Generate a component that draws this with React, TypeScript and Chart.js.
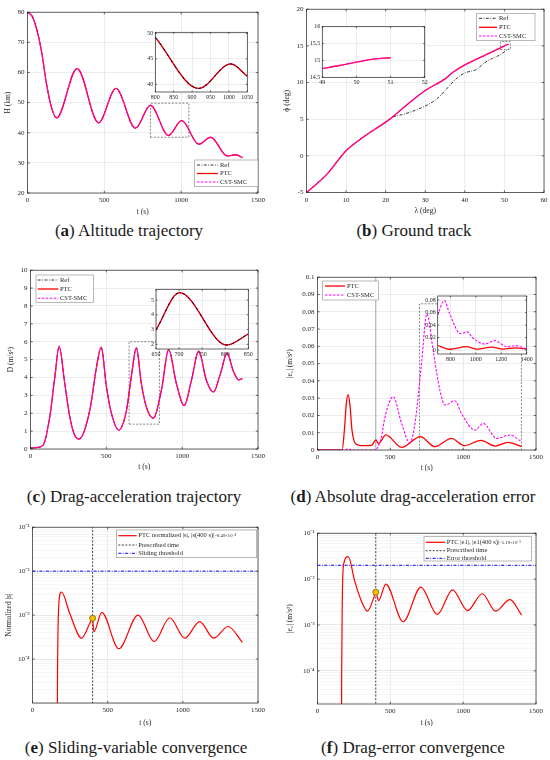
import { useEffect, useRef } from "react";
import { Chart, registerables } from "chart.js";

Chart.register(...registerables);

const SERIF = "'Liberation Serif', 'Times New Roman', serif";
const INK = "#262626";
const GRID = "#e0e0e0";
const GRID_MINOR = "#eeeeee";
const RED = "#ff0000";
const MAGENTA = "#ff00ff";
const BLUE = "#0000ff";
const DASH = [2.5, 1.5];
const DASHDOT = [3, 1.5, 0.8, 1.5];

// (a) altitude, Ref / PTC / CST-SMC sit on top of each other
const altT = [0, 30, 60, 91, 124, 156, 189, 323, 462, 576, 702, 800, 917, 1003, 1115, 1192, 1300, 1357, 1400];
const altH = [80, 78.7, 74.3, 67.1, 56.1, 48.4, 44.9, 61.3, 43.3, 54.7, 41.5, 49.1, 39.1, 44.0, 36.2, 38.5, 32.3, 32.7, 31.7];
const altInsetT = [800, 918, 1005, 1050];
const altInsetH = [49.2, 39.2, 44.0, 41.6];
const altZoom = [800, 1050, 38.5, 49.8];
const altTicksY = [20, 30, 40, 50, 60, 70, 80];
const altInsetTicksX = [800, 850, 900, 950, 1000, 1050];
const altInsetTicksY = [40, 45, 50];

// (b) ground track
const trackLam = [0, 5, 10, 15, 20, 21.5, 25, 30, 35, 37, 40, 45, 51];
const trackPhi = [-5, -2.6, 0.7, 2.8, 4.6, 5.2, 6.8, 8.9, 10.5, 11.4, 12.4, 13.7, 15.25];
const refLam = [0, 5, 10, 15, 20, 21.5, 25, 30, 33, 35, 38, 40, 43, 45, 47, 49, 51];
const refPhi = [-5, -2.6, 0.7, 2.8, 4.6, 5.2, 5.75, 6.8, 7.8, 8.9, 10.6, 11.3, 11.8, 12.7, 13.3, 13.8, 14.6];
const trackInsetLam = [49, 49.5, 50, 50.5, 51];
const trackInsetPhi = [14.76, 14.85, 14.95, 15.04, 15.08];
const trackZoom = [49, 51.5, 14.5, 15.6];
const lamTicks = [0, 10, 20, 30, 40, 50, 60];
const phiTicks = [-5, 0, 5, 10, 15, 20];
const trackInsetTicksX = [49, 50, 51, 52];
const trackInsetTicksY = [14.5, 15, 15.5, 16];

// (c) drag acceleration
const dragT = [0, 40, 83, 127, 160, 189, 226, 259, 290, 321, 391, 435, 466, 501, 534, 582, 633, 667, 698, 731, 764, 810, 863, 911, 962, 1013, 1061, 1109, 1160, 1206, 1252, 1296, 1336, 1373, 1397];
const dragD = [0.05, 0.08, 0.22, 1.8, 4.0, 5.74, 3.65, 1.8, 0.8, 0.56, 2.17, 4.57, 5.69, 3.46, 1.98, 1.06, 2.17, 4.2, 5.65, 3.65, 2.35, 1.72, 3.28, 5.55, 3.65, 2.43, 3.83, 5.47, 3.83, 3.19, 4.2, 5.37, 4.39, 3.87, 3.94];
const dragInsetT = [650, 701, 803, 850];
const dragInsetD = [2.98, 5.5, 1.95, 2.7];
const dragZoom = [650, 850, 1.39, 6.0];
const dragTicksY = [0, 1, 2, 3, 4, 5, 6, 7, 8, 9, 10];
const dragInsetTicksX = [650, 700, 750, 800, 850];
const dragInsetTicksY = [2, 3, 4, 5];

// (d) absolute drag-acceleration error
const errT = [0, 169, 185, 198, 211, 224, 236, 252, 275, 300, 371, 401, 419, 469, 577, 707, 806, 920, 1007, 1122, 1218, 1310, 1401];
const errPTC = [0, 0, 0.012, 0.027, 0.0321, 0.025, 0.012, 0.005, 0.003, 0.0025, 0.0027, 0.0058, 0.0037, 0.0087, 0.0015, 0.0077, 0.0019, 0.0067, 0.0025, 0.0056, 0.0023, 0.0044, 0.0019];
const errCstT = [0, 190, 210, 235, 390, 410, 440, 463, 520, 577, 634, 669, 714, 751, 795, 840, 875, 943, 989, 1081, 1138, 1230, 1321, 1401];
const errCst = [0, 0, 0.0008, 0, 0, 0.001, 0.008, 0.019, 0.0308, 0.0154, 0.0042, 0.0154, 0.05, 0.0788, 0.057, 0.0346, 0.026, 0.0285, 0.021, 0.0115, 0.0154, 0.0067, 0.0087, 0.0048];
const errInsetCstT = [700, 752, 792, 880, 935, 970, 1071, 1148, 1244, 1312, 1400];
const errInsetCst = [0.056, 0.079, 0.059, 0.026, 0.029, 0.0205, 0.0096, 0.015, 0.0053, 0.007, 0.0016];
const errInsetPtcT = [700, 800, 925, 1010, 1125, 1215, 1310, 1400];
const errInsetPtc = [0.0072, 0.0012, 0.0055, 0.0015, 0.0045, 0.0015, 0.0035, 0.0012];
const errZoom = [700, 1400, 0, 0.0846];
const errTicksY = [0, 0.01, 0.02, 0.03, 0.04, 0.05, 0.06, 0.07, 0.08, 0.09, 0.1];
const errInsetTicksX = [800, 1000, 1200, 1400];
const errInsetTicksY = [0, 0.02, 0.04, 0.06, 0.08];

// (e) sliding variable, (f) drag error on log axes
const sT = [163, 166, 170, 177, 193, 248, 326, 381, 399, 408, 461, 574, 702, 809, 913, 1013, 1112, 1205, 1301, 1396];
const sNorm = [1e-7, 3e-5, 5e-4, 2.2e-3, 3.35e-3, 1.09e-3, 2.98e-4, 6.5e-4, 8.7e-4, 4.2e-4, 1.15e-3, 1.72e-4, 1.0e-3, 2.5e-4, 8.7e-4, 3.0e-4, 7.1e-4, 3.0e-4, 5.5e-4, 2.4e-4];
const sMark = [400, 8.49e-4];
const sThreshold = 0.01;
const eT = [163, 166, 170, 178, 211, 256, 302, 343, 382, 401, 419, 469, 588, 710, 822, 927, 1030, 1131, 1223, 1321, 1401];
const eAbs = [1e-7, 1e-4, 3e-3, 2e-2, 3.1e-2, 8.9e-3, 3.3e-3, 2.0e-3, 3.57e-3, 5.2e-3, 3.4e-3, 7.8e-3, 1.18e-3, 6.7e-3, 1.7e-3, 5.8e-3, 2.06e-3, 4.8e-3, 2.0e-3, 3.57e-3, 1.64e-3];
const eMark = [400, 5.19e-3];
const eThreshold = 0.02;
const prescribedT = 400;
const logLabels = [1e-4, 1e-3, 1e-2, 1e-1];

const tTicks = [0, 500, 1000, 1500];

type Rect = { l: number; t: number; r: number; b: number };
type Key = { text: string; note?: string; color: string; dash: number[]; width: number };
type LegendSpec = { x: number; y: number; w: number; h: number; rows: number[]; line: [number, number]; textX: number; size: number; keys: Key[] };
type PanelSpec = { datasets: any[]; x: any; y: any; legend?: LegendSpec; white?: boolean };

const xy = (xs: number[], ys: number[]) => xs.map((x, i) => ({ x, y: ys[i] }));
const boxPath = ([x0, x1, y0, y1]: number[]) => [
  { x: x0, y: y0 }, { x: x1, y: y0 }, { x: x1, y: y1 }, { x: x0, y: y1 }, { x: x0, y: y0 },
];
const fmt = (v: number) => String(Math.round(v * 1e6) / 1e6);
const isPow10 = (v: number) => Math.abs(Math.log10(v) - Math.round(Math.log10(v))) < 1e-6;
const SUP: Record<string, string> = { "-": "⁻", "0": "⁰", "1": "¹", "2": "²", "3": "³", "4": "⁴", "5": "⁵", "6": "⁶", "7": "⁷", "8": "⁸", "9": "⁹" };
const pow10Label = (v: number) => "10" + String(Math.round(Math.log10(v))).split("").map((c) => SUP[c]).join("");

function decadeGrid(min: number, max: number) {
  const out: number[] = [];
  for (let e = Math.floor(Math.log10(min)); e <= Math.ceil(Math.log10(max)); e++) {
    for (let k = 1; k < 10; k++) {
      const v = k * Math.pow(10, e);
      if (v >= min * 0.999 && v <= max * 1.001) out.push(v);
    }
  }
  return out;
}

function curve(data: any[], color: string, width: number, dash: number[] = [], order = 2) {
  return { data, borderColor: color, borderWidth: width, borderDash: dash, pointRadius: 0, cubicInterpolationMode: "monotone", fill: false, order };
}
function guide(data: any[], color: string, width: number, dash: number[], order = 6) {
  return { data, borderColor: color, borderWidth: width, borderDash: dash, pointRadius: 0, tension: 0, fill: false, order };
}
function marker(p: number[]) {
  return {
    data: [{ x: p[0], y: p[1] }], showLine: false, pointRadius: 3,
    pointBackgroundColor: "#f2c200", pointBorderColor: "#7d6200", pointBorderWidth: 0.8, order: 0,
  };
}

function linAxis(min: number, max: number, ticks: number[], title: string | null, size = 7, titlePad = 0) {
  return {
    type: "linear", min, max, bounds: "data",
    afterBuildTicks: (s: any) => { s.ticks = ticks.map((v) => ({ value: v })); },
    ticks: {
      font: { family: SERIF, size }, color: INK, padding: size < 7 ? 2 : 3,
      maxRotation: 0, minRotation: 0, autoSkip: false, callback: (v: any) => fmt(Number(v)),
    },
    grid: { color: GRID, lineWidth: 0.6, drawTicks: false },
    border: { display: false },
    title: { display: !!title, text: title ?? "", font: { family: SERIF, size: 7.5 }, color: INK, padding: { top: titlePad, bottom: 0 } },
  };
}

function logAxis(min: number, max: number, title: string) {
  return {
    type: "logarithmic", min, max, bounds: "data",
    afterBuildTicks: (s: any) => { s.ticks = decadeGrid(min, max).map((v) => ({ value: v })); },
    ticks: {
      font: { family: SERIF, size: 7 }, color: INK, padding: 3, autoSkip: false,
      callback: (v: any) => (logLabels.some((l) => Math.abs(l / Number(v) - 1) < 1e-6) ? pow10Label(Number(v)) : ""),
    },
    grid: { color: (c: any) => (c.tick && isPow10(c.tick.value) ? "#d6d6d6" : GRID_MINOR), lineWidth: 0.6, drawTicks: false },
    border: { display: false },
    title: { display: true, text: title, font: { family: SERIF, size: 7.5 }, color: INK, padding: { top: 0, bottom: 0 } },
  };
}

function framePlugin(white: boolean) {
  return {
    id: "frame",
    beforeDraw(chart: any) {
      if (!white) return;
      const { ctx, chartArea: a } = chart;
      ctx.save();
      ctx.fillStyle = "#ffffff";
      ctx.fillRect(a.left, a.top, a.width, a.height);
      ctx.restore();
    },
    afterDatasetsDraw(chart: any) {
      const { ctx, chartArea: a, scales } = chart;
      const tl = white ? 1.5 : 2.2;
      ctx.save();
      ctx.strokeStyle = INK;
      ctx.lineWidth = 0.7;
      ctx.setLineDash([]);
      ctx.strokeRect(a.left, a.top, a.width, a.height);
      ctx.beginPath();
      for (const t of scales.x.ticks) {
        if (!t.label) continue;
        const px = scales.x.getPixelForValue(t.value);
        ctx.moveTo(px, a.bottom); ctx.lineTo(px, a.bottom - tl);
        ctx.moveTo(px, a.top); ctx.lineTo(px, a.top + tl);
      }
      for (const t of scales.y.ticks) {
        if (!t.label) continue;
        const py = scales.y.getPixelForValue(t.value);
        ctx.moveTo(a.left, py); ctx.lineTo(a.left + tl, py);
        ctx.moveTo(a.right, py); ctx.lineTo(a.right - tl, py);
      }
      ctx.stroke();
      ctx.restore();
    },
  };
}

function legendPlugin(spec: LegendSpec, ox: number, oy: number) {
  return {
    id: "keys",
    afterDraw(chart: any) {
      const ctx = chart.ctx;
      ctx.save();
      ctx.translate(-ox, -oy);
      ctx.fillStyle = "#ffffff";
      ctx.fillRect(spec.x, spec.y, spec.w, spec.h);
      ctx.strokeStyle = "#8a8a8a";
      ctx.lineWidth = 0.6;
      ctx.strokeRect(spec.x, spec.y, spec.w, spec.h);
      spec.keys.forEach((k, i) => {
        const y = spec.rows[i];
        ctx.beginPath();
        ctx.setLineDash(k.dash);
        ctx.strokeStyle = k.color;
        ctx.lineWidth = k.width;
        ctx.moveTo(spec.line[0], y);
        ctx.lineTo(spec.line[1], y);
        ctx.stroke();
        ctx.setLineDash([]);
        ctx.fillStyle = INK;
        ctx.textBaseline = "middle";
        ctx.textAlign = "left";
        ctx.font = `${spec.size}px ${SERIF}`;
        ctx.fillText(k.text, spec.textX, y);
        if (k.note) {
          const w = ctx.measureText(k.text).width;
          ctx.font = `${spec.size * 0.72}px ${SERIF}`;
          ctx.fillText(k.note, spec.textX + w, y);
        }
      });
      ctx.restore();
    },
  };
}

function PlotCanvas({ rect, yw, xh, spec }: { rect: Rect; yw: number; xh: number; spec: () => PanelSpec }) {
  const ref = useRef<HTMLCanvasElement | null>(null);
  const L = Math.floor(rect.l - yw - 2);
  const T = Math.floor(rect.t - 6);
  const W = Math.ceil(rect.r + 12) - L;
  const H = Math.ceil(rect.b + xh + 2) - T;

  useEffect(() => {
    const s = spec();
    const x = { ...s.x, afterFit: (sc: any) => { sc.height = xh; } };
    const y = { ...s.y, afterFit: (sc: any) => { sc.width = yw; } };
    const plugins: any[] = [framePlugin(!!s.white)];
    if (s.legend) plugins.push(legendPlugin(s.legend, L, T));
    const chart = new Chart(ref.current as HTMLCanvasElement, {
      type: "line",
      data: { datasets: s.datasets },
      options: {
        animation: false,
        responsive: false,
        events: [],
        layout: { padding: { left: rect.l - yw - L, top: rect.t - T, right: L + W - rect.r, bottom: T + H - rect.b - xh } },
        plugins: { legend: { display: false }, tooltip: { enabled: false } },
        scales: { x, y },
      },
      plugins,
    } as any);
    return () => chart.destroy();
  }, []);

  return <canvas ref={ref} width={W} height={H} style={{ position: "absolute", left: L, top: T, width: W, height: H }} />;
}

const KEY_REF: Key = { text: "Ref", color: "#000000", dash: DASHDOT, width: 0.8 };
const KEY_PTC: Key = { text: "PTC", color: RED, dash: [], width: 1.3 };
const KEY_CST: Key = { text: "CST-SMC", color: MAGENTA, dash: DASH, width: 1.1 };
const KEY_PRESCRIBED: Key = { text: "Prescribed time", color: "#404040", dash: [2, 1.5], width: 1 };

// main plots: magenta dashes on top; zoomed insets: the black reference shows through on top
const trio = (xs: number[], ys: number[]) => [
  curve(xy(xs, ys), MAGENTA, 1.1, DASH, 1),
  curve(xy(xs, ys), RED, 1.3, [], 2),
  curve(xy(xs, ys), "#000000", 0.8, DASHDOT, 3),
];
const insetTrio = (xs: number[], ys: number[]) => [
  curve(xy(xs, ys), "#000000", 0.9, DASHDOT, 1),
  curve(xy(xs, ys), RED, 1.3, [], 2),
  curve(xy(xs, ys), MAGENTA, 1.1, DASH, 3),
];

const panelA = (): PanelSpec => ({
  datasets: [...trio(altT, altH), guide(boxPath(altZoom), "#555555", 0.7, [2, 1.5])],
  x: linAxis(0, 1500, tTicks, "t (s)"),
  y: linAxis(20, 80, altTicksY, "H (km)", 7, 2),
  legend: { x: 194.7, y: 160, w: 63.3, h: 26.7, rows: [165, 173.5, 182], line: [197, 218], textX: 220, size: 6.5, keys: [KEY_REF, KEY_PTC, KEY_CST] },
});
const insetA = (): PanelSpec => ({
  datasets: insetTrio(altInsetT, altInsetH),
  x: linAxis(800, 1050, altInsetTicksX, null, 6),
  y: linAxis(38.5, 50.2, altInsetTicksY, null, 6),
  white: true,
});

const panelB = (): PanelSpec => ({
  datasets: [
    curve(xy(trackLam, trackPhi), MAGENTA, 1.1, DASH, 1),
    curve(xy(trackLam, trackPhi), RED, 1.3, [], 2),
    curve(xy(refLam, refPhi), "#000000", 0.8, DASHDOT, 3),
    guide(boxPath(trackZoom), "#555555", 0.7, [2, 1.5]),
  ],
  x: linAxis(0, 60, lamTicks, "λ (deg)"),
  y: linAxis(-5, 20, phiTicks, "ϕ (deg)", 7, 2),
  legend: { x: 476.7, y: 13.3, w: 58.3, h: 27.4, rows: [18.3, 27.3, 36], line: [479, 497], textX: 499, size: 6.5, keys: [KEY_REF, KEY_PTC, KEY_CST] },
});
const insetB = (): PanelSpec => ({
  datasets: [
    curve(xy(trackInsetLam, trackInsetPhi), MAGENTA, 1.1, DASH, 1),
    curve(xy(trackInsetLam, trackInsetPhi), RED, 1.3, [], 2),
  ],
  x: linAxis(49, 52, trackInsetTicksX, null, 6),
  y: linAxis(14.5, 16, trackInsetTicksY, null, 6),
  white: true,
});

const panelC = (): PanelSpec => ({
  datasets: [...trio(dragT, dragD), guide(boxPath(dragZoom), "#555555", 0.7, [2, 1.5])],
  x: linAxis(0, 1500, tTicks, "t (s)"),
  y: linAxis(0, 10, dragTicksY, "D (m/s²)", 7, 2.5),
  legend: { x: 36, y: 275, w: 57.3, h: 27.3, rows: [280, 289, 298.3], line: [37.7, 58.3], textX: 60, size: 6.5, keys: [KEY_REF, KEY_PTC, KEY_CST] },
});
const insetC = (): PanelSpec => ({
  datasets: insetTrio(dragInsetT, dragInsetD),
  x: linAxis(650, 850, dragInsetTicksX, null, 6),
  y: linAxis(1.68, 5.73, dragInsetTicksY, null, 6),
  white: true,
});

const panelD = (): PanelSpec => ({
  datasets: [
    curve(xy(errCstT, errCst), MAGENTA, 1.1, DASH, 1),
    curve(xy(errT, errPTC), RED, 1.3, [], 2),
    guide([{ x: prescribedT, y: 0 }, { x: prescribedT, y: 0.1 }], "#8c8c8c", 0.8, []),
    guide(boxPath(errZoom), "#555555", 0.7, [2, 1.5]),
  ],
  x: linAxis(0, 1500, tTicks, "t (s)"),
  y: linAxis(0, 0.1, errTicksY, "|e₁| (m/s²)"),
  legend: { x: 322.7, y: 281, w: 55.6, h: 19, rows: [286, 295], line: [325, 345], textX: 347, size: 6.5, keys: [KEY_PTC, KEY_CST] },
});
const insetD = (): PanelSpec => ({
  datasets: [
    curve(xy(errInsetCstT, errInsetCst), MAGENTA, 1.1, DASH, 1),
    curve(xy(errInsetPtcT, errInsetPtc), RED, 1.3, [], 2),
  ],
  x: linAxis(700, 1400, errInsetTicksX, null, 6),
  y: linAxis(-0.0064, 0.0864, errInsetTicksY, null, 6),
  white: true,
});

const panelE = (): PanelSpec => ({
  datasets: [
    marker(sMark),
    curve(xy(sT, sNorm), RED, 1.2, [], 2),
    guide([{ x: prescribedT, y: 1e-7 }, { x: prescribedT, y: 1 }], "#404040", 1, [2, 1.5], 4),
    guide([{ x: 0, y: sThreshold }, { x: 1500, y: sThreshold }], BLUE, 1, DASHDOT, 4),
  ],
  x: linAxis(0, 1500, tTicks, "t (s)"),
  y: logAxis(1e-5, 1e-1, "Normalized |s|"),
  legend: {
    x: 116.7, y: 530, w: 140, h: 27.7, rows: [535.7, 545, 553.3], line: [118.3, 136.7], textX: 138.3, size: 6.5,
    keys: [
      { text: "PTC normalized |s|, |s(400 s)|", note: "=8.49×10⁻⁴", color: RED, dash: [], width: 1.2 },
      KEY_PRESCRIBED,
      { text: "Sliding threshold", color: BLUE, dash: DASHDOT, width: 1 },
    ],
  },
});

const panelF = (): PanelSpec => ({
  datasets: [
    marker(eMark),
    curve(xy(eT, eAbs), RED, 1.2, [], 2),
    guide([{ x: prescribedT, y: 1e-7 }, { x: prescribedT, y: 1 }], "#404040", 1, [2, 1.5], 4),
    guide([{ x: 0, y: eThreshold }, { x: 1500, y: eThreshold }], BLUE, 1, DASHDOT, 4),
  ],
  x: linAxis(0, 1500, tTicks, "t (s)"),
  y: logAxis(1.9e-5, 1e-1, "|e₁| (m/s²)"),
  legend: {
    x: 424, y: 536.7, w: 107.7, h: 24.3, rows: [542.3, 550.7, 558.3], line: [425.7, 445], textX: 446.7, size: 6.5,
    keys: [
      { text: "PTC |e1|, |e1(400 s)|", note: "=5.19×10⁻³", color: RED, dash: [], width: 1.2 },
      KEY_PRESCRIBED,
      { text: "Error threshold", color: BLUE, dash: DASHDOT, width: 1 },
    ],
  },
});

const captions: { tag: string; text: string; x: number; y: number }[] = [
  { tag: "a", text: "Altitude trajectory", x: 129, y: 230 },
  { tag: "b", text: "Ground track", x: 414, y: 230 },
  { tag: "c", text: "Drag-acceleration trajectory", x: 134, y: 496 },
  { tag: "d", text: "Absolute drag-acceleration error", x: 413, y: 496 },
  { tag: "e", text: "Sliding-variable convergence", x: 136, y: 747 },
  { tag: "f", text: "Drag-error convergence", x: 413, y: 747 },
];

export default function App() {
  return (
    <div style={{ position: "absolute", left: 0, top: 0, width: 550, height: 760, overflow: "hidden", background: "#ffffff" }}>
      <PlotCanvas rect={{ l: 27.5, t: 11, r: 258, b: 193 }} yw={26} xh={23.5} spec={panelA} />
      <PlotCanvas rect={{ l: 155.3, t: 32.3, r: 247.3, b: 92 }} yw={10} xh={10} spec={insetA} />

      <PlotCanvas rect={{ l: 306.5, t: 8.5, r: 544, b: 192.5 }} yw={26} xh={23} spec={panelB} />
      <PlotCanvas rect={{ l: 322.3, t: 26.7, r: 424.7, b: 77.3 }} yw={14} xh={10} spec={insetB} />

      <PlotCanvas rect={{ l: 30.5, t: 269, r: 258, b: 449 }} yw={26} xh={22.5} spec={panelC} />
      <PlotCanvas rect={{ l: 156, t: 289.3, r: 248.3, b: 349 }} yw={8} xh={10} spec={insetC} />

      <PlotCanvas rect={{ l: 317.5, t: 276.5, r: 536, b: 450 }} yw={32} xh={22.5} spec={panelD} />
      <PlotCanvas rect={{ l: 437.7, t: 296, r: 526.7, b: 354 }} yw={15} xh={10} spec={insetD} />

      <PlotCanvas rect={{ l: 32.5, t: 526, r: 258, b: 703 }} yw={28} xh={24.5} spec={panelE} />
      <PlotCanvas rect={{ l: 317.5, t: 532, r: 536, b: 704 }} yw={32} xh={23.5} spec={panelF} />

      {captions.map((c) => (
        <div
          key={c.tag}
          style={{
            position: "absolute", left: c.x, top: c.y, transform: "translate(-50%, -50%)",
            whiteSpace: "nowrap", fontFamily: SERIF, fontSize: 17, color: "#1a1a1a", lineHeight: 1,
          }}
        >
          (<b>{c.tag}</b>) {c.text}
        </div>
      ))}
    </div>
  );
}
